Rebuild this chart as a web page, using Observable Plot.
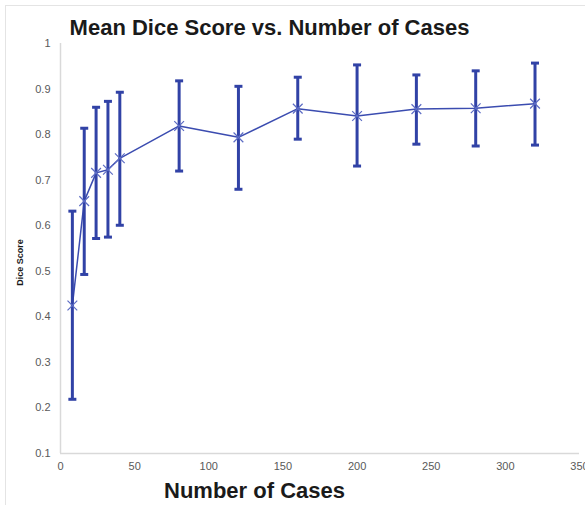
<!DOCTYPE html>
<html>
<head>
<meta charset="utf-8">
<script src="https://cdn.jsdelivr.net/npm/d3@7"></script>
<script src="https://cdn.jsdelivr.net/npm/@observablehq/plot@0.6"></script>
<style>
  html, body { margin: 0; padding: 0; background: #fff; }
  #wrap { position: relative; width: 585px; height: 505px; overflow: hidden; }
  #border { position: absolute; left: 5px; top: 5px; width: 600px; height: 600px; border-left: 1px solid #e4e4e4; border-top: 1px solid #e4e4e4; pointer-events: none; }
  svg { font-family: "Liberation Sans", Arial, sans-serif; }
</style>
</head>
<body>
<div id="wrap"><div id="border"></div></div>
<script>
const cases = [8, 16, 24, 32, 40, 80, 120, 160, 200, 240, 280, 320];
const meanDice = [0.425, 0.654, 0.716, 0.723, 0.748, 0.819, 0.794, 0.857, 0.841, 0.856, 0.858, 0.868];
const upperDice = [0.632, 0.814, 0.860, 0.873, 0.893, 0.918, 0.906, 0.926, 0.953, 0.931, 0.940, 0.957];
const lowerDice = [0.219, 0.493, 0.572, 0.575, 0.601, 0.720, 0.680, 0.790, 0.731, 0.779, 0.775, 0.777];
const xTicks = [0, 50, 100, 150, 200, 250, 300, 350];
const yTicks = [0.1, 0.2, 0.3, 0.4, 0.5, 0.6, 0.7, 0.8, 0.9, 1];
const titleText = "Mean Dice Score vs. Number of Cases";
const xLabel = "Number of Cases";
const yLabel = "Dice Score";

const data = cases.map((c, i) => ({x: c, mean: meanDice[i], hi: upperDice[i], lo: lowerDice[i]}));
const caps = data.flatMap(d => [{x: d.x, y: d.hi}, {x: d.x, y: d.lo}]);

const blue = "#3142a6";
const capSymbol = {
  draw(ctx, size) {
    const r = Math.sqrt(size / Math.PI);
    ctx.moveTo(-r, 0);
    ctx.lineTo(r, 0);
  }
};

const chart = Plot.plot({
  width: 585,
  height: 505,
  marginTop: 43,
  marginBottom: 52,
  marginLeft: 60,
  marginRight: 6,
  style: {fontFamily: "'Liberation Sans', Arial, sans-serif", fontSize: "11px", background: "transparent"},
  x: {domain: [0, 350], ticks: xTicks, tickSize: 0, tickPadding: 9, label: null, tickFormat: d => String(d)},
  y: {domain: [0.1, 1], ticks: yTicks, tickSize: 0, tickPadding: 10, label: null, tickFormat: d => String(+d.toFixed(1))},
  marks: [
    Plot.ruleX([0], {stroke: "#d9d9d9", strokeWidth: 1.5}),
    Plot.ruleY([0.1], {stroke: "#d9d9d9", strokeWidth: 1.5}),
    Plot.axisX({ticks: xTicks, tickSize: 0, tickPadding: 9, label: null, fill: "#595959", fontSize: 11, tickFormat: d => String(d)}),
    Plot.axisY({ticks: yTicks, tickSize: 0, tickPadding: 10, label: null, fill: "#595959", fontSize: 11, tickFormat: d => String(+d.toFixed(1))}),
    Plot.line(data, {x: "x", y: "mean", stroke: "#3b4cb0", strokeWidth: 1.5, curve: "linear"}),
    Plot.ruleX(data, {x: "x", y1: "lo", y2: "hi", stroke: blue, strokeWidth: 3}),
    Plot.dot(caps, {x: "x", y: "y", symbol: capSymbol, r: 4, stroke: blue, strokeWidth: 3, fill: "none"}),
    Plot.dot(data, {x: "x", y: "mean", symbol: "times", r: 4.5, stroke: "#5c6cc4", strokeWidth: 1.2}),
    Plot.text([titleText], {frameAnchor: "top-left", dx: 209, dy: -16, text: d => d, fontSize: 22, fontWeight: "bold", fill: "#1a1a1a", textAnchor: "middle", lineAnchor: "middle"}),
    Plot.text([xLabel], {frameAnchor: "bottom-left", dx: 194, dy: 37, text: d => d, fontSize: 22, fontWeight: "bold", fill: "#1a1a1a", textAnchor: "middle", lineAnchor: "middle"}),
    Plot.text([yLabel], {frameAnchor: "left", dx: -40, dy: 14, text: d => d, fontSize: 9, fontWeight: "bold", fill: "#1a1a1a", rotate: -90, textAnchor: "middle", lineAnchor: "middle"})
  ]
});
document.getElementById("wrap").appendChild(chart);
</script>
</body>
</html>
